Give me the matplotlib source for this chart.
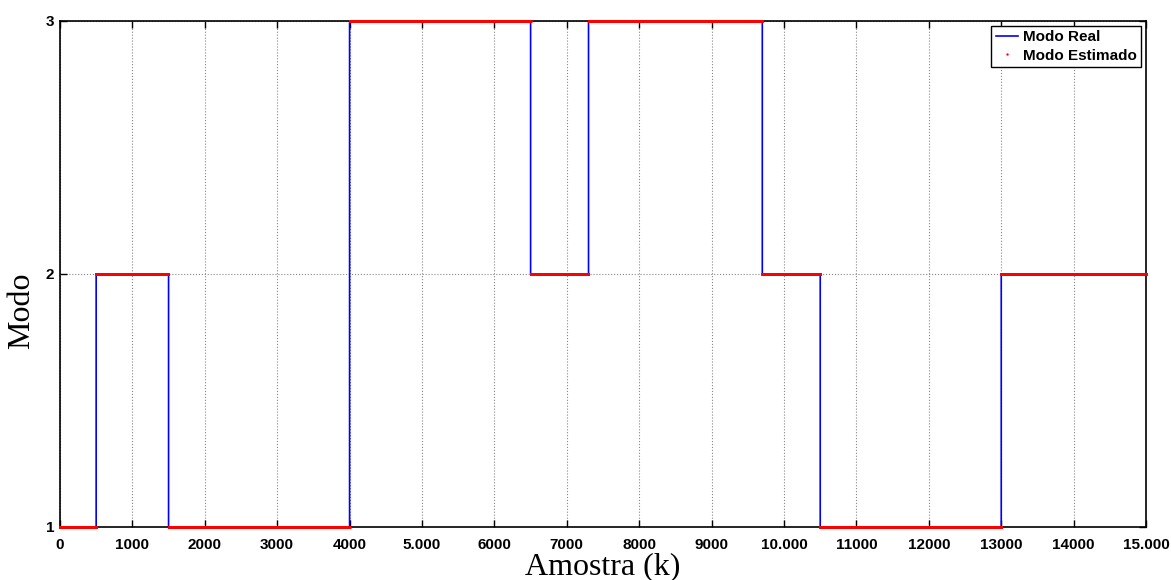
import numpy as np
import matplotlib
matplotlib.use("Agg")
import matplotlib.pyplot as plt

# Segmentos do modo (inicio de cada trecho e valor do modo)
inicios_real = [0, 500, 1500, 4000, 6500, 7300, 9700, 10500, 13000]
modos_real = [1, 2, 1, 3, 2, 3, 2, 1, 2]
inicios_est = [0, 500, 1500, 4000, 6500, 7300, 9700, 10500, 13000]
modos_est = [1, 2, 1, 3, 2, 3, 2, 1, 2]
n_amostras = 15000

xticks = [0, 1000, 2000, 3000, 4000, 5000, 6000, 7000, 8000, 9000,
          10000, 11000, 12000, 13000, 14000, 15000]
xtick_labels = ['0', '1000', '2000', '3000', '4000', '5.000', '6000', '7000',
                '8000', '9000', '10.000', '11000', '12000', '13000', '14000', '15.000']
yticks = [1, 2, 3]


def expandir(inicios, modos, n):
    tam = np.diff(np.array(inicios + [n + 1]))
    return np.repeat(modos, tam)


k = np.arange(n_amostras + 1)
real = expandir(inicios_real, modos_real, n_amostras)
est = expandir(inicios_est, modos_est, n_amostras)

fig = plt.figure(figsize=(11.71, 5.80), dpi=100)
ax = fig.add_axes([0.0512, 0.0914, 0.9275, 0.8724])

ax.step(k, real, where='post', color='blue', lw=1.2, label='Modo Real')
ax.plot(k, est, '.', color='red', ms=4.2, mew=0, label='Modo Estimado',
        clip_on=False, zorder=3)

ax.set_xlim(0, 15000)
ax.set_ylim(1, 3)
ax.set_xticks(xticks)
ax.set_xticklabels(xtick_labels)
ax.set_yticks(yticks)
ax.set_yticklabels([str(v) for v in yticks])
for lab in ax.get_xticklabels() + ax.get_yticklabels():
    lab.set_fontweight('bold')
    lab.set_fontfamily('Liberation Sans')
    lab.set_fontsize(11)
ax.tick_params(direction='in', top=True, right=True, length=5, width=1)
ax.tick_params(axis='x', pad=8)
ax.tick_params(axis='y', pad=4)
ax.grid(True, linestyle=':', color='#888888', lw=0.8)
for s in ax.spines.values():
    s.set_linewidth(1.2)

ax.set_xlabel('Amostra (k)', fontfamily='Liberation Serif', fontsize=23)
ax.set_ylabel('Modo', fontfamily='Liberation Serif', fontsize=23)
ax.xaxis.set_label_coords(0.5, -0.050)
ax.yaxis.set_label_coords(-0.022, 0.427)

leg = ax.legend(loc='upper right', fancybox=False, framealpha=1, edgecolor='black',
                prop={'family': 'Liberation Sans', 'weight': 'bold', 'size': 11},
                handlelength=1.5, borderpad=0.3, labelspacing=0.3, handletextpad=0.3,
                borderaxespad=0.3, markerscale=0.8)
leg.get_frame().set_linewidth(1.0)

fig.savefig('out.png', dpi=100)
